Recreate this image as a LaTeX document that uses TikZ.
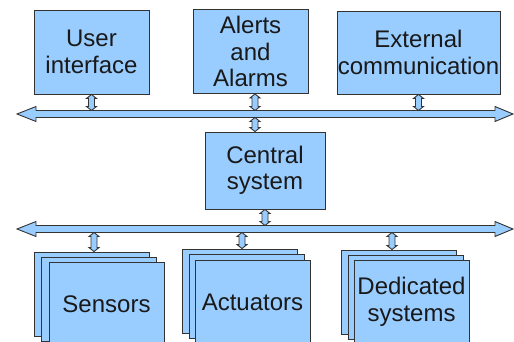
\documentclass[tikz,border=0pt]{standalone}
\usepackage{fontspec}
\setmainfont{Liberation Sans}
\usetikzlibrary{calc}
\definecolor{boxblue}{HTML}{99CCFF}
\definecolor{edge}{HTML}{333333}
\tikzset{
  blk/.style={draw=edge, fill=boxblue, line width=0.9pt, minimum width=115pt, minimum height=84pt,
    inner sep=0pt, align=center, font=\fontsize{24}{26.5}\selectfont, text=black!90},
  arr/.style={draw=edge, fill=boxblue, line width=0.9pt, line join=miter}
}
\newcommand\vdarrow[2]{\draw[arr] let \p1=(#1), \p2=(#2) in
  (\x1,\y1) -- ++(5pt,-4pt) -- ++(-2pt,0pt) -- (\x1+3pt,\y2+4pt) -- ++(2pt,0pt) -- (\x1,\y2)
  -- ++(-5pt,4pt) -- ++(2pt,0pt) -- (\x1-3pt,\y1-4pt) -- ++(-2pt,0pt) -- cycle;}
\newcommand\hdarrow[2]{\draw[arr] let \p1=(#1), \p2=(#2) in
  (\x1,\y1) -- (\x1+19pt,\y1+7.5pt) -- (\x1+19pt,\y1+3.5pt) -- (\x2-18pt,\y1+3.5pt) -- (\x2-18pt,\y1+7.5pt)
  -- (\x2,\y1) -- (\x2-18pt,\y1-7.5pt) -- (\x2-18pt,\y1-3.5pt) -- (\x1+19pt,\y1-3.5pt) -- (\x1+19pt,\y1-7.5pt) -- cycle;}
\begin{document}
\begin{tikzpicture}[x=1pt,y=-1pt]
\useasboundingbox (0,0) rectangle (514,342);
\clip (0,0) rectangle (514,342);
% top boxes
\node[blk] (ui) at (91.5,52) {User\\interface};
\node[blk] (al) at (250.5,51.5) {Alerts\\and\\Alarms};
\node[blk, minimum width=163pt, minimum height=83pt] (ex) at (418.5,52.5) {External\\communication};
% central
\node[blk, minimum width=120pt, minimum height=77pt] (cs) at (265,170.5) {Central\\system};
% buses
\coordinate (b1w) at (17,114);
\coordinate (b1e) at (513,114);
\coordinate (b1t) at (0,110.5);
\coordinate (b1b) at (0,117.5);
\coordinate (b2w) at (17,229);
\coordinate (b2e) at (513,229);
\coordinate (b2t) at (0,225.5);
\coordinate (b2b) at (0,232.5);
% stacks
\foreach \n/\x/\y in {s/91.5/294, a/239.5/291, d/399/292}{
  \node[blk] (\n1) at (\x,\y) {};
  \node[blk] (\n2) at (\x+7,\y+5) {};
}
\node[blk] (s3) at (106.5,304) {Sensors};
\node[blk] (a3) at (252.5,302) {Actuators};
\node[blk] (d3) at (411.5,302) {Dedicated\\systems};
% connectors
\vdarrow{ui.south}{ui.south |- b1t}
\vdarrow{[xshift=4.5pt]al.south}{[xshift=4.5pt]al.south |- b1t}
\vdarrow{ex.south}{ex.south |- b1t}
\vdarrow{[xshift=-10pt]cs.north |- b1b}{[xshift=-10pt]cs.north}
\vdarrow{cs.south}{cs.south |- b2t}
\vdarrow{[xshift=2.5pt]s1.north |- b2b}{[xshift=2.5pt]s1.north}
\vdarrow{[xshift=2.5pt]a1.north |- b2b}{[xshift=2.5pt]a1.north}
\vdarrow{[xshift=-7pt]d1.north |- b2b}{[xshift=-7pt]d1.north}
\hdarrow{b1w}{b1e}
\hdarrow{b2w}{b2e}
\end{tikzpicture}
\end{document}
